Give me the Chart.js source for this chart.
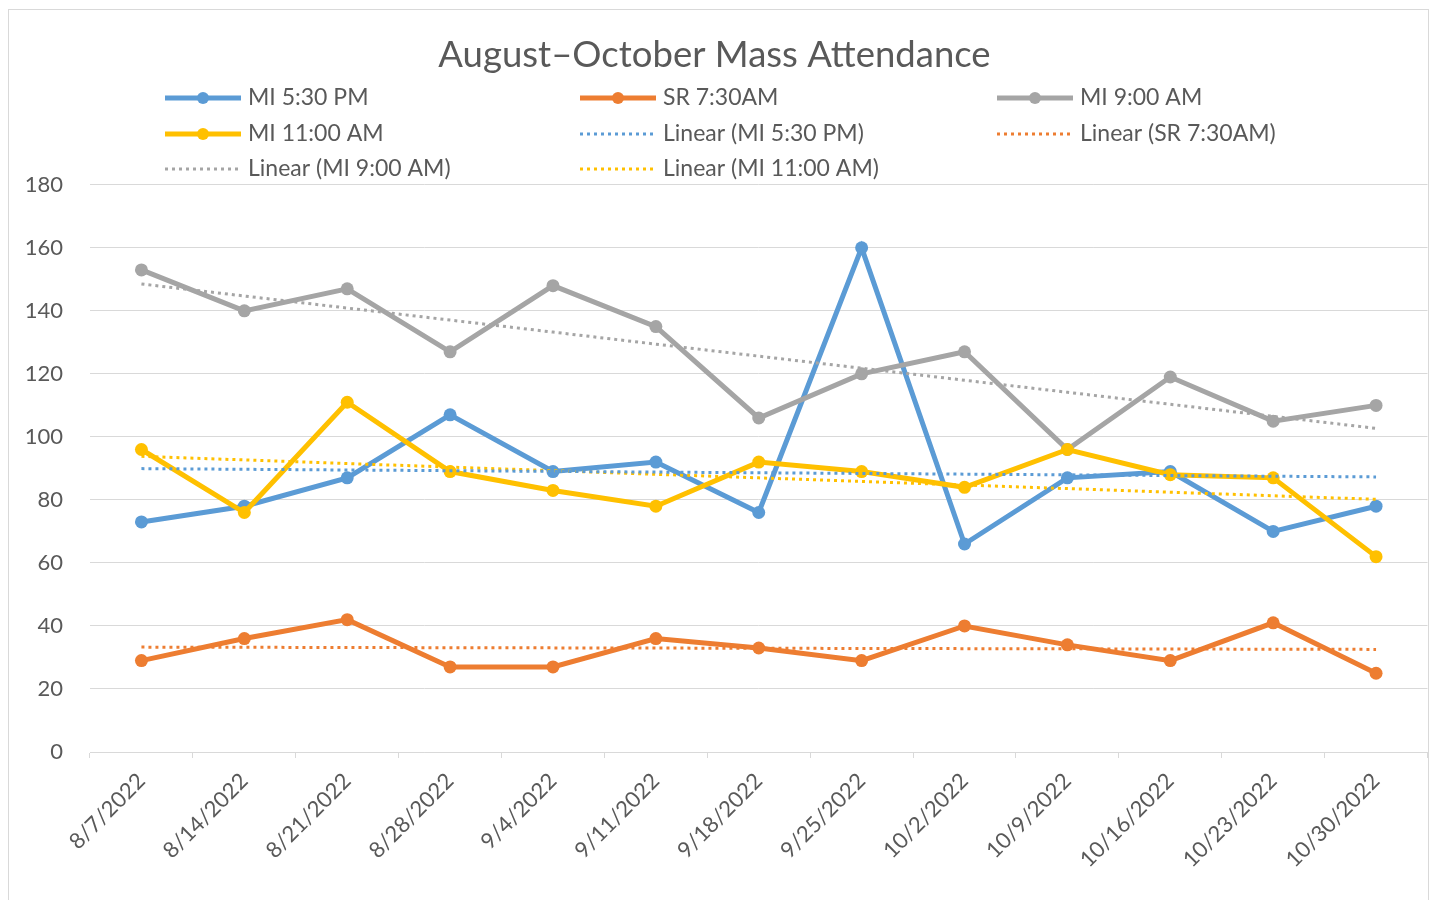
<!DOCTYPE html>
<html>
<head>
<meta charset="utf-8">
<script src="https://cdn.jsdelivr.net/npm/chart.js@4/dist/chart.umd.min.js"></script>
<style>
  html, body { margin: 0; padding: 0; background: #fff; }
  #marco { position: absolute; left: 8px; top: 9px; width: 1421px; height: 900px; border: 1px solid #d9d9d9; box-sizing: border-box; }
  #contenedor { position: absolute; left: 0; top: 0; width: 1434px; height: 900px; }
</style>
</head>
<body>
<div id="marco"></div>
<div id="contenedor"><canvas id="grafico-misa" width="1434" height="900"></canvas></div>
<script>
// Fechas (domingos) y asistencia por misa
const fechas = ["8/7/2022", "8/14/2022", "8/21/2022", "8/28/2022", "9/4/2022", "9/11/2022",
  "9/18/2022", "9/25/2022", "10/2/2022", "10/9/2022", "10/16/2022", "10/23/2022", "10/30/2022"];
const mi530pm = [73, 78, 87, 107, 89, 92, 76, 160, 66, 87, 89, 70, 78];
const sr730am = [29, 36, 42, 27, 27, 36, 33, 29, 40, 34, 29, 41, 25];
const mi900am = [153, 140, 147, 127, 148, 135, 106, 120, 127, 96, 119, 105, 110];
const mi1100am = [96, 76, 111, 89, 83, 78, 92, 89, 84, 96, 88, 87, 62];
const ticksY = [0, 20, 40, 60, 80, 100, 120, 140, 160, 180];

const colores = { azul: "#5b9bd5", naranja: "#ed7d31", gris: "#a5a5a5", amarillo: "#ffc000" };
const texto = "#595959";
const fuente = "Lato, 'Liberation Sans', sans-serif";

// Tendencia lineal (mínimos cuadrados), como la línea "Linear" de Excel
const tendencia = (valores) => {
  const n = valores.length;
  let sx = 0, sy = 0, sxy = 0, sxx = 0;
  valores.forEach((y, x) => { sx += x; sy += y; sxy += x * y; sxx += x * x; });
  const m = (n * sxy - sx * sy) / (n * sxx - sx * sx);
  const b = (sy - m * sx) / n;
  return valores.map((_, x) => m * x + b);
};

const serie = (label, data, color, order) => ({
  label, data, order,
  borderColor: color, backgroundColor: color,
  borderWidth: 5, pointRadius: 6.5, pointBorderWidth: 0, pointBackgroundColor: color,
  tension: 0, tipo: "serie",
});

const lineal = (label, data, color) => ({
  label: "Linear (" + label + ")", data: tendencia(data), order: 0,
  borderColor: color, backgroundColor: color,
  borderWidth: 3, borderDash: [3, 4], borderCapStyle: "butt",
  pointRadius: 0, tension: 0, tipo: "lineal",
});

// Leyenda en cuadrícula de 3 columnas, al estilo de Excel
const leyendaGrilla = {
  id: "leyendaGrilla",
  afterDraw(chart) {
    const ctx = chart.ctx;
    const columnas = [165, 580, 997];
    const filas = [98, 134, 169];
    ctx.save();
    ctx.font = "23px " + fuente;
    ctx.textBaseline = "middle";
    ctx.textAlign = "left";
    chart.data.datasets.forEach((ds, i) => {
      const x = columnas[i % 3];
      const y = filas[Math.floor(i / 3)];
      ctx.strokeStyle = ds.borderColor;
      if (ds.tipo === "serie") {
        ctx.lineWidth = 5;
        ctx.setLineDash([]);
        ctx.beginPath(); ctx.moveTo(x, y); ctx.lineTo(x + 76, y); ctx.stroke();
        ctx.fillStyle = ds.borderColor;
        ctx.beginPath(); ctx.arc(x + 38, y, 6, 0, Math.PI * 2); ctx.fill();
      } else {
        ctx.lineWidth = 3;
        ctx.setLineDash([3, 4]);
        ctx.beginPath(); ctx.moveTo(x, y); ctx.lineTo(x + 76, y); ctx.stroke();
      }
      ctx.fillStyle = texto;
      ctx.fillText(ds.label, x + 83, y);
    });
    ctx.restore();
  },
};

const ctx = document.getElementById("grafico-misa").getContext("2d");

new Chart(ctx, {
  type: "line",
  data: {
    labels: fechas,
    datasets: [
      serie("MI 5:30 PM", mi530pm, colores.azul, 4),
      serie("SR 7:30AM", sr730am, colores.naranja, 3),
      serie("MI 9:00 AM", mi900am, colores.gris, 2),
      serie("MI 11:00 AM", mi1100am, colores.amarillo, 1),
      lineal("MI 5:30 PM", mi530pm, colores.azul),
      lineal("SR 7:30AM", sr730am, colores.naranja),
      lineal("MI 9:00 AM", mi900am, colores.gris),
      lineal("MI 11:00 AM", mi1100am, colores.amarillo),
    ],
  },
  plugins: [leyendaGrilla],
  options: {
    responsive: false,
    animation: false,
    layout: { padding: { left: 0, right: 5, top: 0, bottom: 0 } },
    plugins: {
      legend: { display: false },
      tooltip: { enabled: false },
      title: {
        display: true,
        text: "August\u2013October Mass Attendance",
        color: texto,
        font: { family: fuente, size: 36.5, weight: "normal" },
        padding: { top: 33, bottom: 108 },
      },
    },
    scales: {
      x: {
        offset: true,
        afterFit: (escala) => { escala.height = 148; },
        grid: { offset: true, drawOnChartArea: false, drawTicks: true, tickLength: 6, color: "#d9d9d9" },
        border: { display: true, color: "#d9d9d9", width: 1 },
        ticks: {
          color: texto, font: { family: fuente, size: 22 },
          maxRotation: 45, minRotation: 45, autoSkip: false, padding: 10,
        },
      },
      y: {
        min: 0, max: 180,
        afterFit: (escala) => { escala.width = 90; },
        afterBuildTicks: (escala) => { escala.ticks = ticksY.map((v) => ({ value: v })); },
        grid: { color: "#d9d9d9", drawTicks: false },
        border: { display: false },
        ticks: { color: texto, font: { family: fuente, size: 22 }, padding: 27 },
      },
    },
  },
});
</script>
</body>
</html>
